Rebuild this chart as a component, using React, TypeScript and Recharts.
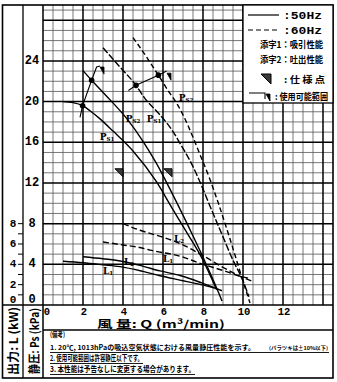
import React from 'react';
import { ComposedChart, Line, Scatter, XAxis, YAxis, ReferenceLine, ReferenceDot } from 'recharts';

const Q_MAX = 14.5;
const P_MAX = 29.5;

// grid / ticks
const X_TICKS = [0, 2, 4, 6, 8, 10, 12];
const X_MAJOR = [2, 4, 6, 8, 10, 12, 14];
const X_MINOR = [0.5, 1, 1.5, 2.5, 3, 3.5, 4.5, 5, 5.5, 6.5, 7, 7.5, 8.5, 9, 9.5, 10.5, 11, 11.5, 12.5, 13, 13.5];
const Y_TICKS = [0, 1, 2, 3, 4, 5, 6, 7, 8, 9, 10, 11, 12, 13, 14, 15, 16, 17, 18, 19, 20, 21, 22, 23, 24, 25, 26, 27, 28, 29];
const Y_MAJOR = [4, 8, 12, 16, 20, 24, 28];
const Y_MINOR = [1, 2, 3, 5, 6, 7, 9, 10, 11, 13, 14, 15, 17, 18, 19, 21, 22, 23, 25, 26, 27, 29];

// static pressure curves (kPa) vs air flow (m3/min)
const ps1_50Q = [1.0, 1.5, 1.98, 2.35, 2.85, 3.5, 4.52, 5.68, 6.43, 7.2, 8.0, 8.68];
const ps1_50P = [20.0, 19.9, 19.6, 19.1, 18.3, 17.1, 15.1, 12.1, 9.6, 7.1, 4.4, 1.5];
const ps2_50Q = [2.0, 2.43, 3.1, 4.2, 5.0, 5.68, 6.5, 7.4, 8.0, 8.5, 8.95];
const ps2_50P = [23.05, 22.1, 20.7, 18.3, 16.1, 13.9, 10.8, 7.2, 4.7, 2.5, 0.4];
const ps1_60Q = [3.0, 3.8, 4.65, 5.1, 5.8, 6.52, 6.85, 7.4, 7.85, 8.27, 9.0, 9.5, 9.95, 10.3];
const ps1_60P = [25.3, 23.5, 21.6, 20.3, 18.8, 17.0, 15.9, 14.0, 12.1, 10.1, 6.7, 4.4, 2.6, 0.8];
const ps2_60Q = [4.5, 5.0, 5.77, 6.35, 6.6, 7.0, 7.52, 7.85, 8.3, 8.77, 9.3, 9.93, 10.35];
const ps2_60P = [26.3, 24.9, 22.6, 20.8, 20.1, 18.7, 16.4, 14.8, 12.6, 10.0, 6.8, 2.8, 0.2];

// shaft power curves (kW)
const l1_50Q = [1.0, 2.0, 3.0, 3.85, 5.0, 5.85, 6.85, 7.8, 8.68];
const l1_50P = [4.3, 4.15, 3.95, 3.77, 3.3, 2.88, 2.45, 2.05, 1.62];
const l2_50Q = [2.0, 3.0, 3.85, 4.85, 5.85, 6.85, 7.9, 8.95];
const l2_50P = [4.75, 4.55, 4.33, 3.9, 3.35, 2.9, 2.2, 1.4];
const l1_60Q = [3.0, 4.0, 4.85, 5.35, 6.85, 8.0, 9.0, 9.9, 10.35];
const l1_60P = [6.2, 5.9, 5.65, 5.4, 4.8, 4.0, 3.4, 2.8, 2.6];
const l2_60Q = [4.0, 4.85, 5.35, 6.85, 8.0, 9.0, 10.0, 10.45];
const l2_60P = [8.0, 7.35, 7.05, 6.05, 4.85, 3.7, 2.7, 2.35];

// usable range limit lines
const lim50Q = [1.85, 1.98, 2.43, 2.68, 2.85];
const lim50P = [18.45, 19.6, 22.1, 23.4, 23.5];
const lim60Q = [4.27, 4.65, 5.77, 6.18];
const lim60P = [21.1, 21.6, 22.6, 23.0];
const flagQ = [2.95, 6.3];
const flagP = [23.1, 22.5];

// rated operating points (dots) and spec point markers
const dotQ = [1.98, 2.43, 4.65, 5.77];
const dotP = [19.6, 22.1, 21.6, 22.6];
const specQ = [3.8, 6.25];
const specP = [13.0, 13.0];

// curve labels
const labQ = [3.2, 4.5, 5.55, 7.15, 3.25, 4.3, 6.25, 6.8];
const labP = [16.5, 18.3, 18.3, 20.4, 3.3, 4.2, 4.5, 6.5];
const labMain = ['P', 'P', 'P', 'P', 'L', 'L', 'L', 'L'];
const labSub = ['S1', 'S2', 'S1', 'S2', '1', '2', '1', '2'];

const pts = (q: number[], p: number[]) => q.map((x, i) => ({ q: x, v: p[i] }));

const MONO = "'Liberation Mono', 'DejaVu Sans Mono', monospace";
const CJK = "'Noto Sans CJK JP', sans-serif";
const SERIF = "'DejaVu Serif', 'Liberation Serif', serif";

const YTick = (props: any) => {
  const { y, payload } = props;
  const v = payload.value;
  const els: any[] = [];
  if (v % 4 === 0 && v <= 24) {
    els.push(
      <text key="p" x={32} y={v === 0 ? y - 5 : y} textAnchor="middle" dominantBaseline="central"
        fontFamily={MONO} fontWeight="bold" fontSize={12} fill="#000">{v}</text>
    );
  }
  if (v <= 8) {
    if (v > 0) els.push(<line key="t" x1={18} x2={23} y1={y} y2={y} stroke="#000" strokeWidth={1} />);
    if (v % 2 === 0) {
      els.push(
        <text key="l" x={13} y={v === 0 ? y - 5 : y} textAnchor="middle" dominantBaseline="central"
          fontFamily={MONO} fontWeight="bold" fontSize={11} fill="#000">{v}</text>
      );
    }
  }
  return <g>{els}</g>;
};

const XTick = (props: any) => {
  const { x, payload } = props;
  const v = payload.value;
  return (
    <text x={v === 0 ? x + 4 : x + 1} y={311.5} textAnchor="middle" dominantBaseline="central"
      fontFamily={MONO} fontWeight="bold" fontSize={10.5} fill="#000">{v}</text>
  );
};

const specShape = (p: any) => (
  <polygon points={`${p.cx - 4},${p.cy - 4} ${p.cx + 4},${p.cy - 4} ${p.cx + 4},${p.cy + 4}`}
    fill="#3a3a3a" stroke="#000" strokeWidth={1} />
);
const flagShape = (p: any) => (
  <polygon points={`${p.cx - 2},${p.cy - 3} ${p.cx + 2},${p.cy - 3} ${p.cx + 2},${p.cy + 4}`}
    fill="#000" stroke="#000" strokeWidth={0.8} />
);
const dotShape = (p: any) => <circle cx={p.cx} cy={p.cy} r={2.8} fill="#000" />;

export default function App() {
  const curveStroke = { stroke: '#000', strokeWidth: 1.4, dot: false, isAnimationActive: false, activeDot: false } as any;
  return (
    <div style={{ position: 'absolute', left: 0, top: 0, width: 337, height: 382, background: '#fff' }}>
      <ComposedChart width={337} height={382} margin={{ top: 5, right: 4, bottom: 53, left: 0 }}>
        <XAxis dataKey="q" type="number" domain={[0, Q_MAX]} ticks={X_TICKS} interval={0}
          axisLine={false} tickLine={false} height={24} tick={XTick} allowDataOverflow />
        <YAxis dataKey="v" type="number" domain={[0, P_MAX]} ticks={Y_TICKS} interval={0}
          axisLine={false} tickLine={false} width={43} tick={YTick} allowDataOverflow />
        {X_MINOR.map((q) => <ReferenceLine key={'xm' + q} x={q} stroke="#555" strokeWidth={0.8} />)}
        {Y_MINOR.map((p) => <ReferenceLine key={'ym' + p} y={p} stroke="#555" strokeWidth={0.8} />)}
        {X_MAJOR.map((q) => <ReferenceLine key={'xM' + q} x={q} stroke="#000" strokeWidth={1.5} />)}
        {Y_MAJOR.map((p) => <ReferenceLine key={'yM' + p} y={p} stroke="#000" strokeWidth={1.5} />)}

        <Line data={pts(ps1_50Q, ps1_50P)} dataKey="v" type="monotone" {...curveStroke} />
        <Line data={pts(ps2_50Q, ps2_50P)} dataKey="v" type="monotone" {...curveStroke} />
        <Line data={pts(ps1_60Q, ps1_60P)} dataKey="v" type="monotone" {...curveStroke} strokeDasharray="7 2" />
        <Line data={pts(ps2_60Q, ps2_60P)} dataKey="v" type="monotone" {...curveStroke} strokeDasharray="5 3" />
        <Line data={pts(l1_50Q, l1_50P)} dataKey="v" type="monotone" {...curveStroke} />
        <Line data={pts(l2_50Q, l2_50P)} dataKey="v" type="monotone" {...curveStroke} />
        <Line data={pts(l1_60Q, l1_60P)} dataKey="v" type="monotone" {...curveStroke} strokeDasharray="6 3" />
        <Line data={pts(l2_60Q, l2_60P)} dataKey="v" type="monotone" {...curveStroke} strokeDasharray="6 3" />
        <Line data={pts(lim50Q, lim50P)} dataKey="v" type="linear" {...curveStroke} strokeWidth={1.1} />
        <Line data={pts(lim60Q, lim60P)} dataKey="v" type="linear" {...curveStroke} strokeWidth={1.1} />

        <Scatter data={pts(dotQ, dotP)} dataKey="v" shape={dotShape} isAnimationActive={false} />
        <Scatter data={pts(specQ, specP)} dataKey="v" shape={specShape} isAnimationActive={false} />
        <Scatter data={pts(flagQ, flagP)} dataKey="v" shape={flagShape} isAnimationActive={false} />

        {labQ.map((q, i) => (
          <ReferenceDot key={'lab' + i} x={q} y={labP[i]} r={0}
            shape={(p: any) => (
              <text x={p.cx} y={p.cy} textAnchor="middle" dominantBaseline="central"
                fontFamily={SERIF} fontWeight="bold" fontSize={9} fill="#000">
                {labMain[i]}
                <tspan fontSize={5.5} dy={2}>{labSub[i]}</tspan>
              </text>
            )} />
        ))}
      </ComposedChart>

      <svg width={337} height={382} style={{ position: 'absolute', left: 0, top: 0, pointerEvents: 'none' }}>
        <g stroke="#000" fill="none">
          <rect x={2.5} y={5} width={330.5} height={373} strokeWidth={1.6} />
          <line x1={23} y1={5} x2={23} y2={378} strokeWidth={1.3} />
          <line x1={43} y1={5} x2={43} y2={378} strokeWidth={1.5} />
          <line x1={2.5} y1={305} x2={333} y2={305} strokeWidth={1.5} />
          <line x1={43} y1={330} x2={333} y2={330} strokeWidth={1.3} />
        </g>

        {/* legend */}
        <rect x={243} y={5} width={90} height={98} fill="#fff" stroke="#000" strokeWidth={1.3} />
        <line x1={248} y1={15} x2={279} y2={15} stroke="#000" strokeWidth={1.2} />
        <text x={283} y={19} fontFamily={MONO} fontWeight="bold" fontSize={11} textLength={39} lengthAdjust="spacingAndGlyphs">:50Hz</text>
        <line x1={248} y1={30} x2={279} y2={30} stroke="#000" strokeWidth={1.2} strokeDasharray="5 3" />
        <text x={283} y={34} fontFamily={MONO} fontWeight="bold" fontSize={11} textLength={39} lengthAdjust="spacingAndGlyphs">:60Hz</text>
        <text x={260} y={48} fontFamily={CJK} fontWeight="bold" fontSize={9} textLength={63} lengthAdjust="spacingAndGlyphs">添字1：吸引性能</text>
        <text x={260} y={63} fontFamily={CJK} fontWeight="bold" fontSize={9} textLength={63} lengthAdjust="spacingAndGlyphs">添字2：吐出性能</text>
        <polygon points="261,74 271,74 271,84" fill="#3a3a3a" stroke="#000" strokeWidth={1} />
        <text x={284} y={82.5} fontFamily={CJK} fontWeight="bold" fontSize={9} textLength={41} lengthAdjust="spacingAndGlyphs">: 仕 様 点</text>
        <polyline points="249,93 265,93 265,99" fill="none" stroke="#000" strokeWidth={1.1} />
        <polygon points="266,94 270,94 270,101" fill="#000" stroke="#000" strokeWidth={0.8} />
        <text x={275} y={100} fontFamily={CJK} fontWeight="bold" fontSize={9} textLength={53} lengthAdjust="spacingAndGlyphs">: 使用可能範囲</text>

        {/* axis titles */}
        <text transform="translate(12.5,341) rotate(-90)" textAnchor="middle" dominantBaseline="central"
          fontFamily={CJK} fontWeight="bold" fontSize={12} textLength={68} lengthAdjust="spacingAndGlyphs">出力: L (kW)</text>
        <text transform="translate(33,341) rotate(-90)" textAnchor="middle" dominantBaseline="central"
          fontFamily={CJK} fontWeight="bold" fontSize={12} textLength={66} lengthAdjust="spacingAndGlyphs">静圧: Ps (kPa)</text>
        <text x={97} y={328} fontFamily={CJK} fontWeight="bold" fontSize={10.5} textLength={128} lengthAdjust="spacingAndGlyphs">風 量: Q (m³/min)</text>

        {/* notes */}
        <text x={50} y={337} fontFamily={CJK} fontWeight="bold" fontSize={7} textLength={15} lengthAdjust="spacingAndGlyphs">(備考)</text>
        <text x={50} y={350} fontFamily={CJK} fontWeight="bold" fontSize={6.8} textLength={205} lengthAdjust="spacingAndGlyphs">1. 20℃, 1013hPaの吸込空気状態における風量静圧性能を示す。</text>
        <text x={269} y={350} fontFamily={CJK} fontWeight="bold" fontSize={5.2} textLength={59} lengthAdjust="spacingAndGlyphs">(バラツキは±10%以下)</text>
        <line x1={50} y1={352.5} x2={329} y2={352.5} stroke="#000" strokeWidth={0.9} />
        <text x={50} y={361} fontFamily={CJK} fontWeight="bold" fontSize={8} textLength={93} lengthAdjust="spacingAndGlyphs">2. 使用可能範囲は許容静圧以下です。</text>
        <line x1={50} y1={363.5} x2={143} y2={363.5} stroke="#000" strokeWidth={0.9} />
        <text x={50} y={372} fontFamily={CJK} fontWeight="bold" fontSize={8} textLength={145} lengthAdjust="spacingAndGlyphs">3. 本性能は予告なしに変更する場合があります。</text>
        <line x1={50} y1={374.5} x2={195} y2={374.5} stroke="#000" strokeWidth={0.9} />
      </svg>
    </div>
  );
}
